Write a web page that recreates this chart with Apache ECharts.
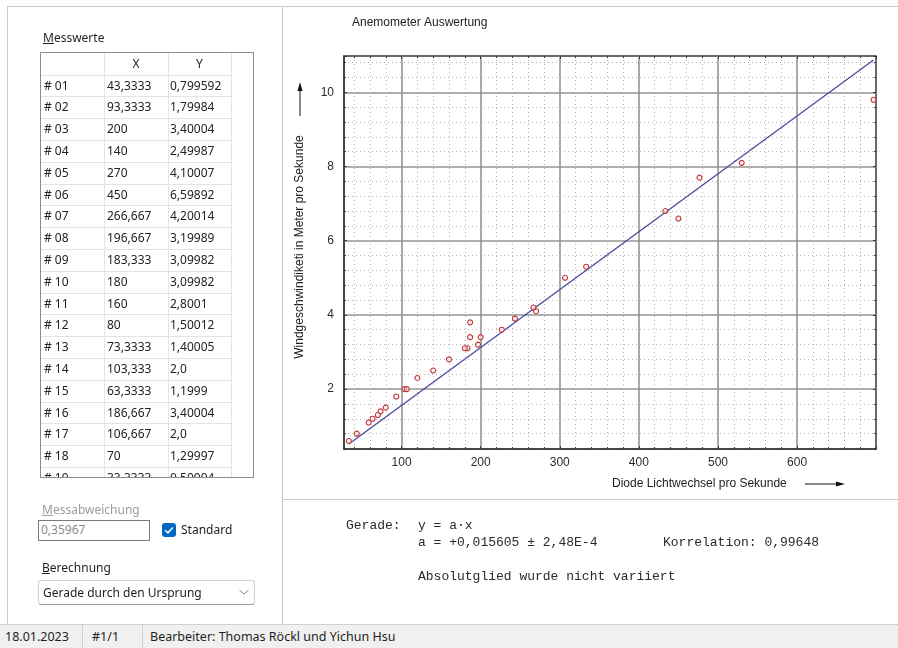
<!DOCTYPE html>
<html>
<head>
<meta charset="utf-8">
<script src="https://cdn.jsdelivr.net/npm/echarts@6/dist/echarts.min.js"></script>
<style>
  html, body { margin: 0; padding: 0; background: #fff; }
  body { width: 898px; height: 648px; position: relative; overflow: hidden;
         font-family: "Noto Sans", sans-serif; color: #1e1e1e; }
  #chart { position: absolute; left: 0; top: 0; width: 898px; height: 648px; }
  .abs { position: absolute; white-space: nowrap; }
  .hl { position: absolute; height: 1px; background: #c9c9c9; }
  .vl { position: absolute; width: 1px; background: #c9c9c9; }
  .ui { font-size: 12px; line-height: 16px; }
  .mono { font-family: "Liberation Mono", monospace; font-size: 13px; line-height: 16px; color: #2a2a2a; }
  #table { position: absolute; left: 40px; top: 52px; width: 212px; height: 424px;
           border: 1px solid #8c8c8c; overflow: hidden; background: #fff; }
  .cell { position: absolute; font-size: 12px; line-height: 16px; color: #222; white-space: nowrap; }
  .tline { position: absolute; background: #e4e4e4; }
  #status { position: absolute; left: 0; top: 624px; width: 898px; height: 24px; background: #f0f0f0;
            border-top: 1px solid #cfcfcf; font-size: 12.5px; }
</style>
</head>
<body>
<div id="chart"></div>

<!-- window frame -->
<div class="hl" style="left:7px; top:6px; width:891px;"></div>
<div class="vl" style="left:7px; top:6px; height:618px;"></div>
<div class="vl" style="left:282px; top:6px; height:618px;"></div>
<div class="hl" style="left:282px; top:499px; width:616px;"></div>

<!-- left panel -->
<div class="abs ui" style="left:43px; top:30px;"><u>M</u>esswerte</div>
<div id="table"></div>

<div class="abs ui" style="left:42px; top:502px; color:#9c9c9c;"><u>M</u>essabweichung</div>
<div class="abs" style="left:38px; top:520px; width:110px; height:19px; border:1px solid #7a7a7a; background:#fff;"></div>
<div class="abs ui" id="devText" style="left:41px; top:522px; color:#8a8a8a;"></div>
<div class="abs" style="left:162px; top:523px; width:14px; height:14px; border-radius:3px; background:#0067c0;">
  <svg width="14" height="14" viewBox="0 0 14 14" style="position:absolute;left:0;top:0">
    <polyline points="3.2,7.2 5.9,9.8 10.8,4.4" fill="none" stroke="#fff" stroke-width="1.5"/>
  </svg>
</div>
<div class="abs ui" style="left:181px; top:522px;">Standard</div>

<div class="abs ui" style="left:42px; top:560px;"><u>B</u>erechnung</div>
<div class="abs" style="left:38px; top:580px; width:215px; height:23px; border:1px solid #d0d0d0; border-bottom-color:#9a9a9a; border-radius:3px; background:#fff;"></div>
<div class="abs ui" style="left:43px; top:585px;">Gerade durch den Ursprung</div>
<svg class="abs" style="left:238px; top:588px;" width="12" height="8" viewBox="0 0 12 8">
  <polyline points="1.5,2 6,6 10.5,2" fill="none" stroke="#8a8a8a" stroke-width="1"/>
</svg>

<!-- fit result -->
<div class="abs mono" style="left:346px; top:518px;">Gerade:</div>
<div class="abs mono" style="left:418px; top:518px;">y = a·x</div>
<div class="abs mono" id="slopeText" style="left:418px; top:535px;"></div>
<div class="abs mono" id="corrText" style="left:663px; top:535px;"></div>
<div class="abs mono" style="left:418px; top:569px;">Absolutglied wurde nicht variiert</div>

<!-- status bar -->
<div id="status">
  <div class="abs" style="left:5px; top:3px;">18.01.2023</div>
  <div class="vl" style="left:82px; top:0; height:24px; background:#cfcfcf;"></div>
  <div class="abs" style="left:92px; top:3px;">#1/1</div>
  <div class="vl" style="left:142px; top:0; height:24px; background:#cfcfcf;"></div>
  <div class="abs" style="left:150px; top:3px;">Bearbeiter: Thomas Röckl und Yichun Hsu</div>
</div>

<script>
// Measured diode light changes per second and wind speed in m/s
const windX = [43.3333, 93.3333, 200, 140, 270, 450, 266.667, 196.667, 183.333, 180,
               160, 80, 73.3333, 103.333, 63.3333, 186.667, 106.667, 70, 33.3333, 58.3333,
               120, 186.667, 226.667, 243.333, 306.667, 333.333, 433.333, 476.667, 530, 696.667];
const windY = [0.799592, 1.79984, 3.40004, 2.49987, 4.10007, 6.59892, 4.20014, 3.19989, 3.09982, 3.09982,
               2.8001, 1.50012, 1.40005, 2.0, 1.1999, 3.40004, 2.0, 1.29997, 0.59994, 1.1,
               2.3, 3.8, 3.6, 3.9, 5.0, 5.3, 6.8, 7.7, 8.1, 9.8];

// Fit through the origin: y = a * x
const slopeA = 0.015605;
const slopeErr = 2.48e-4;
const correlation = 0.99648;
const measDeviation = 0.35967;

// Axis extents of the plot
const xRange = [27.2, 699.8];
const yRange = [0.385, 10.98];

// German number formatting
function de(v) { return String(v).replace('.', ','); }
function deY(v) { return Number.isInteger(v) ? v + ',0' : de(v); }
function deExp(v) { return v.toExponential(2).replace('.', ',').replace('e', 'E'); }

document.getElementById('devText').textContent = de(measDeviation);
document.getElementById('slopeText').textContent = 'a = +' + de(slopeA) + ' ± ' + deExp(slopeErr);
document.getElementById('corrText').textContent = 'Korrelation: ' + de(correlation);

// Measurement table
(function buildTable() {
  const tbl = document.getElementById('table');
  const colX = [0, 63, 127, 190];
  const headH = 21.5, rowH = 21.8;
  function add(html) { tbl.insertAdjacentHTML('beforeend', html); }
  add('<div class="cell" style="left:' + colX[1] + 'px;width:64px;text-align:center;top:3px;">X</div>');
  add('<div class="cell" style="left:' + colX[2] + 'px;width:63px;text-align:center;top:3px;">Y</div>');
  add('<div class="tline" style="left:0;top:' + headH + 'px;width:' + colX[3] + 'px;height:1px;"></div>');
  for (let i = 0; i < 19; i++) {
    const top = headH + i * rowH;
    const label = '# ' + String(i + 1).padStart(2, '0');
    add('<div class="cell" style="left:3px;top:' + (top + 3) + 'px;">' + label + '</div>');
    add('<div class="cell" style="left:' + (colX[1] + 3) + 'px;top:' + (top + 3) + 'px;">' + de(windX[i]) + '</div>');
    add('<div class="cell" style="left:' + (colX[2] + 2) + 'px;top:' + (top + 3) + 'px;">' + deY(windY[i]) + '</div>');
    add('<div class="tline" style="left:0;top:' + (top + rowH) + 'px;width:' + colX[3] + 'px;height:1px;"></div>');
  }
  for (let c = 1; c < colX.length; c++) {
    add('<div class="tline" style="left:' + colX[c] + 'px;top:0;width:1px;height:424px;"></div>');
  }
})();

const fitLine = [
  [Math.min(...windX), slopeA * Math.min(...windX)],
  [Math.max(...windX), slopeA * Math.max(...windX)]
];
const points = windX.map((x, i) => [x, windY[i]]);

const axisFont = { fontFamily: 'Liberation Sans', fontSize: 12, color: '#2b2b2b' };
const majorLine = { color: '#959595', width: 1.6, type: 'solid' };
const minorLine = { color: '#b4b4b4', width: 1, type: [1, 3] };

const chart = echarts.init(document.getElementById('chart'), null, { renderer: 'canvas' });
chart.setOption({
  animation: false,
  backgroundColor: 'transparent',
  grid: {
    left: 344, top: 56, width: 532, height: 393,
    show: true, borderColor: '#3a3a3a', borderWidth: 1.5,
    backgroundColor: 'transparent', containLabel: false, outerBoundsMode: 'none'
  },
  xAxis: [{
    type: 'value', min: xRange[0], max: xRange[1], splitNumber: 7,
    axisLine: { show: true, lineStyle: { color: '#3a3a3a', width: 1.5 } },
    axisTick: { show: true, inside: true, length: 3, lineStyle: { color: '#3a3a3a' } },
    minorTick: { show: true, splitNumber: 5, length: 2, lineStyle: { color: '#3a3a3a' } },
    axisLabel: Object.assign({ margin: 8, showMinLabel: false, showMaxLabel: false }, axisFont),
    splitLine: { show: true, showMinLine: false, showMaxLine: false, lineStyle: majorLine },
    minorSplitLine: { show: true, lineStyle: minorLine }
  }, {
    type: 'value', position: 'top', min: xRange[0], max: xRange[1], splitNumber: 7,
    axisLine: { show: false },
    axisTick: { show: true, inside: true, length: 3, lineStyle: { color: '#3a3a3a' } },
    minorTick: { show: true, splitNumber: 5, length: 2, lineStyle: { color: '#3a3a3a' } },
    axisLabel: { show: false }, splitLine: { show: false }
  }],
  yAxis: [{
    type: 'value', min: yRange[0], max: yRange[1], splitNumber: 5,
    axisLine: { show: true, lineStyle: { color: '#3a3a3a', width: 1.5 } },
    axisTick: { show: true, inside: true, length: 3, lineStyle: { color: '#3a3a3a' } },
    minorTick: { show: true, splitNumber: 5, length: 2, lineStyle: { color: '#3a3a3a' } },
    axisLabel: Object.assign({ margin: 10, showMinLabel: false, showMaxLabel: false }, axisFont),
    splitLine: { show: true, showMinLine: false, showMaxLine: false, lineStyle: majorLine },
    minorSplitLine: { show: true, lineStyle: minorLine }
  }, {
    type: 'value', position: 'right', min: yRange[0], max: yRange[1], splitNumber: 5,
    axisLine: { show: false },
    axisTick: { show: true, inside: true, length: 3, lineStyle: { color: '#3a3a3a' } },
    minorTick: { show: true, splitNumber: 5, length: 2, lineStyle: { color: '#3a3a3a' } },
    axisLabel: { show: false }, splitLine: { show: false }
  }],
  graphic: [
    { type: 'text', x: 352, y: 23, style: { text: 'Anemometer Auswertung', font: '12px "Liberation Sans"', fill: '#222', verticalAlign: 'middle' } },
    { type: 'text', x: 612, y: 484, style: { text: 'Diode Lichtwechsel pro Sekunde', font: '12px "Liberation Sans"', fill: '#222', verticalAlign: 'middle' } },
    { type: 'line', shape: { x1: 805, y1: 484, x2: 838, y2: 484 }, style: { stroke: '#111', lineWidth: 1 } },
    { type: 'polygon', shape: { points: [[845, 484], [836, 481.5], [836, 486.5]] }, style: { fill: '#111' } },
    { type: 'text', x: 300, y: 247, rotation: Math.PI / 2, style: { text: 'Windgeschwindiketi in Meter pro Sekunde', font: '12px "Liberation Sans"', fill: '#222', align: 'center', verticalAlign: 'middle' } },
    { type: 'line', shape: { x1: 300, y1: 116, x2: 300, y2: 89 }, style: { stroke: '#111', lineWidth: 1 } },
    { type: 'polygon', shape: { points: [[300, 82], [297.5, 91], [302.5, 91]] }, style: { fill: '#111' } }
  ],
  series: [{
    type: 'line', xAxisIndex: 0, yAxisIndex: 0, data: fitLine,
    symbol: 'none', lineStyle: { color: '#4848a0', width: 1.3 }, z: 3, silent: true
  }, {
    type: 'scatter', xAxisIndex: 0, yAxisIndex: 0, data: points,
    symbol: 'circle', symbolSize: 5,
    itemStyle: { color: 'rgba(255,240,240,0.6)', borderColor: '#c03a3a', borderWidth: 1.1, opacity: 1 },
    z: 4, silent: true
  }]
});
</script>
</body>
</html>
